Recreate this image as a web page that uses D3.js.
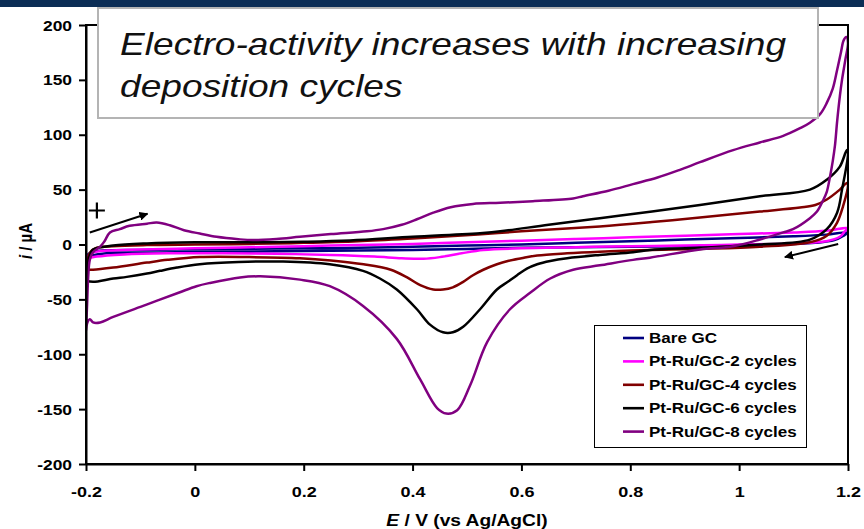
<!DOCTYPE html>
<html><head><meta charset="utf-8">
<script src="https://cdn.jsdelivr.net/npm/d3@7"></script>
<style>
body{margin:0;background:#fff;}
svg{display:block;font-family:"Liberation Sans",Arial,sans-serif;}
</style>
</head><body>
<svg id="chart" width="864" height="529"></svg>
<script>
// ---- data (E / V, i / µA), sweep order: forward then reverse ----
const xTicks = [-0.2, 0, 0.2, 0.4, 0.6, 0.8, 1, 1.2];
const xTickLabels = ["-0.2", "0", "0.2", "0.4", "0.6", "0.8", "1", "1.2"];
const yTicks = [-200, -150, -100, -50, 0, 50, 100, 150, 200];
const yTickLabels = ["-200", "-150", "-100", "-50", "0", "50", "100", "150", "200"];

const seriesNames = ["Bare GC", "Pt-Ru/GC-2 cycles", "Pt-Ru/GC-4 cycles", "Pt-Ru/GC-6 cycles", "Pt-Ru/GC-8 cycles"];
const seriesColors = ["#000080", "#ff00ff", "#800000", "#000000", "#800080"];

const bareGC = [
[-0.2,-14],[-0.196,-9],[-0.188,-6.5],[-0.17,-5.5],[-0.1,-5],[0,-4.5],[0.1,-4],[0.2,-3.5],[0.3,-3],[0.4,-2],[0.5,-1],[0.6,0],[0.7,1.5],[0.8,3],[0.9,4.5],[1.0,6],[1.1,7.5],[1.16,9],[1.2,11],
[1.192,8],[1.175,4],[1.14,1.5],[1.05,-0.5],[0.9,-1.5],[0.8,-2],[0.6,-3],[0.5,-4],[0.4,-5],[0.3,-5.5],[0.2,-6],[0.1,-6.5],[0,-7],[-0.1,-7.5],[-0.17,-8.5],[-0.193,-11],[-0.2,-14]];

const cycles2 = [
[-0.2,-16],[-0.196,-10],[-0.185,-7],[-0.16,-5.5],[-0.1,-4.5],[0,-3.5],[0.1,-2.5],[0.2,-1.5],[0.3,-0.5],[0.4,0.5],[0.5,2],[0.6,3.5],[0.7,5],[0.8,6.5],[0.9,8],[1.0,9.5],[1.1,11],[1.16,12.5],[1.2,15],
[1.194,12],[1.185,7],[1.16,3],[1.1,1],[1.0,0],[0.9,-1],[0.8,-1.5],[0.7,-2.5],[0.6,-3.5],[0.53,-5],[0.49,-8],[0.45,-11.5],[0.42,-13],[0.38,-12.5],[0.33,-11],[0.25,-9.5],[0.15,-8.5],[0.05,-8],[-0.05,-8],[-0.13,-9],[-0.18,-11],[-0.196,-13],[-0.2,-16]];

const cycles4 = [
[-0.2,-23],[-0.197,-14],[-0.192,-7],[-0.18,-3],[-0.15,-1.5],[-0.088,-0.5],[0,0],[0.1,0.5],[0.2,1.5],[0.3,3],[0.4,5.5],[0.52,9],[0.6,12],[0.744,16.5],[0.84,20.5],[0.928,24.6],[1.038,30],[1.112,33.7],[1.14,36],[1.161,41],[1.185,50],[1.198,56],
[1.2,54],[1.191,35],[1.18,20],[1.161,8],[1.13,2],[1.038,-2],[0.928,-4],[0.8,-5.5],[0.744,-6.5],[0.684,-8],[0.629,-10],[0.6,-12.5],[0.575,-15],[0.555,-18],[0.53,-23],[0.511,-28],[0.493,-34],[0.474,-39],[0.456,-41],[0.438,-41],[0.414,-37],[0.39,-30],[0.36,-23],[0.31,-18],[0.25,-14.5],[0.193,-12.5],[0.1,-11.5],[0.009,-11.5],[-0.05,-14],[-0.088,-16.5],[-0.15,-21],[-0.187,-23],[-0.2,-23]];

const cycles6 = [
[-0.2,-33],[-0.197,-20],[-0.193,-10],[-0.187,-4.5],[-0.15,-1],[-0.088,1],[0,2],[0.1,2],[0.2,2.5],[0.285,3.6],[0.4,7],[0.529,10.5],[0.561,12],[0.65,18],[0.744,24],[0.84,30],[0.928,36],[1.038,44],[1.13,50],[1.161,59],[1.185,71],[1.198,86],
[1.2,84],[1.189,50],[1.18,29],[1.161,14],[1.13,4.5],[1.038,0],[0.928,-3],[0.836,-5],[0.805,-7],[0.744,-9.5],[0.684,-12.5],[0.653,-15],[0.629,-18],[0.61,-22],[0.592,-28],[0.575,-34],[0.555,-41],[0.524,-59],[0.493,-75],[0.474,-80],[0.456,-80],[0.432,-73],[0.408,-59],[0.371,-41],[0.34,-31],[0.309,-24],[0.248,-18],[0.162,-15.5],[0.08,-16],[0.009,-18],[-0.033,-21],[-0.064,-24],[-0.088,-26.5],[-0.125,-29.5],[-0.15,-31],[-0.187,-34],[-0.2,-33]];

const cycles8 = [
[-0.2,-78],[-0.198,-55],[-0.196,-30],[-0.193,-14],[-0.187,-7],[-0.174,-2],[-0.166,3],[-0.156,11],[-0.138,14],[-0.12,17],[-0.088,19],[-0.07,20],[-0.046,17.5],[-0.02,13],[0.009,10],[0.04,7],[0.08,4.8],[0.107,4],[0.15,5],[0.193,7],[0.25,9.5],[0.316,12],[0.346,14],[0.38,18],[0.408,23],[0.438,29],[0.47,34],[0.511,37],[0.561,38],[0.621,39.5],[0.695,42],[0.713,44],[0.76,49],[0.805,55],[0.85,61],[0.891,68],[0.928,75],[0.989,86],[1.038,93],[1.081,99],[1.112,106],[1.13,111],[1.149,119],[1.161,129],[1.172,142],[1.18,159],[1.187,175],[1.192,186],[1.197,189],
[1.2,184],[1.195,168],[1.189,150],[1.185,135],[1.18,112],[1.176,90],[1.172,76],[1.167,62],[1.161,48],[1.154,40],[1.143,30],[1.13,24],[1.099,14],[1.081,11],[1.038,4.5],[0.989,-1.5],[0.928,-4.5],[0.836,-12],[0.805,-14],[0.744,-19],[0.695,-23],[0.653,-31],[0.616,-44],[0.579,-59],[0.537,-89],[0.506,-128],[0.482,-151],[0.462,-154],[0.445,-149],[0.414,-123],[0.371,-86],[0.309,-56],[0.248,-38],[0.193,-32],[0.12,-29],[0.083,-30],[0.028,-35],[0.003,-38],[-0.03,-44],[-0.09,-55],[-0.15,-66],[-0.174,-71],[-0.187,-71],[-0.193,-68],[-0.198,-72],[-0.2,-78]];

const allSeries = [bareGC, cycles2, cycles4, cycles6, cycles8];

const titleLines = ["Electro-activity increases with increasing", "deposition cycles"];

// ---- drawing ----
const SX = 1.2; // horizontal stretch of the original picture's text
const svg = d3.select("#chart");
const L = 86, R = 848, T = 25, B = 464;
const x = d3.scaleLinear().domain([-0.2, 1.2]).range([L, R]);
const y = d3.scaleLinear().domain([-200, 200]).range([B, T]);

svg.append("rect").attr("x",0).attr("y",0).attr("width",864).attr("height",529).attr("fill","#fff");

svg.append("defs").append("clipPath").attr("id","plotclip")
  .append("rect").attr("x",L).attr("y",T-3).attr("width",R-L+1).attr("height",B-T+3);

// curves
const line = d3.line().x(d=>x(d[0])).y(d=>y(d[1])).curve(d3.curveCatmullRom.alpha(0.5));
const gCurves = svg.append("g").attr("clip-path","url(#plotclip)");
allSeries.forEach((s,k)=>{
  gCurves.append("path").attr("d", line(s)).attr("fill","none")
    .attr("stroke", seriesColors[k]).attr("stroke-width",2.5)
    .attr("stroke-linejoin","round").attr("stroke-linecap","round");
});

// plot frame
svg.append("rect").attr("x",L).attr("y",T).attr("width",R-L).attr("height",B-T)
  .attr("fill","none").attr("stroke","#000").attr("stroke-width",2);

// axes
const gx = svg.append("g").attr("transform",`translate(0,${B})`)
  .call(d3.axisBottom(x).tickValues(xTicks).tickFormat((d,i)=>xTickLabels[i]).tickSize(7).tickSizeOuter(0));
const gy = svg.append("g").attr("transform",`translate(${L},0)`)
  .call(d3.axisLeft(y).tickValues(yTicks).tickFormat((d,i)=>yTickLabels[i]).tickSize(7).tickSizeOuter(0));
[gx, gy].forEach(g=>{
  g.select(".domain").attr("stroke","#000").attr("stroke-width",2);
  g.selectAll(".tick line").attr("stroke","#000").attr("stroke-width",2);
  g.selectAll(".tick text").attr("fill","#000").attr("font-size",15).attr("font-weight","bold")
    .attr("font-family",'"Liberation Sans",Arial,sans-serif');
});
gx.selectAll(".tick text").attr("y",33).attr("dy",0).attr("transform",`scale(${SX},1)`);
gy.selectAll(".tick text").attr("font-size",14.5).attr("x",-14/SX).attr("dy","0.35em").attr("transform",`scale(${SX},1)`);

// axis titles
const yt = svg.append("text").attr("transform",`translate(32,241) scale(${SX},1) rotate(-90)`)
  .attr("text-anchor","middle").attr("font-size",15).attr("font-weight","bold").attr("fill","#000");
yt.append("tspan").attr("font-style","italic").text("i");
yt.append("tspan").text(" / µA");
const xt = svg.append("text").attr("transform",`translate(467,526) scale(${SX},1)`)
  .attr("text-anchor","middle").attr("font-size",16).attr("font-weight","bold").attr("fill","#000");
xt.append("tspan").attr("font-style","italic").text("E");
xt.append("tspan").text(" / V (vs Ag/AgCl)");

// annotations: "+" and scan-direction arrows
const defs = svg.select("defs");
defs.append("marker").attr("id","ah").attr("viewBox","0 0 10 10").attr("refX",9).attr("refY",5)
  .attr("markerWidth",9).attr("markerHeight",9).attr("markerUnits","userSpaceOnUse").attr("orient","auto")
  .append("path").attr("d","M0,0 L10,5 L0,10 Z").attr("fill","#000");
const plusC = [-0.18, 31];
svg.append("path").attr("d",`M${x(plusC[0])-8},${y(plusC[1])} h16 M${x(plusC[0])},${y(plusC[1])-8} v16`)
  .attr("stroke","#000").attr("stroke-width",2.2).attr("fill","none");
const arrows = [[[-0.193,11],[-0.087,28]], [[1.182,0.5],[1.084,-11.5]]];
arrows.forEach(a=>{
  svg.append("line").attr("x1",x(a[0][0])).attr("y1",y(a[0][1])).attr("x2",x(a[1][0])).attr("y2",y(a[1][1]))
    .attr("stroke","#000").attr("stroke-width",2).attr("marker-end","url(#ah)");
});

// legend
const lg = svg.append("g");
lg.append("rect").attr("x",594.5).attr("y",325.5).attr("width",212).attr("height",122)
  .attr("fill","#fff").attr("stroke","#000").attr("stroke-width",1);
seriesNames.forEach((n,k)=>{
  const cy = 338 + k*23.4;
  lg.append("line").attr("x1",623).attr("x2",644).attr("y1",cy).attr("y2",cy)
    .attr("stroke",seriesColors[k]).attr("stroke-width",2.6);
  lg.append("text").attr("transform",`translate(649,${cy+5}) scale(${SX},1)`)
    .attr("font-size",14.2).attr("font-weight","bold").attr("fill","#000").text(n);
});

// title box
svg.append("rect").attr("x",98).attr("y",8).attr("width",720).attr("height",110)
  .attr("fill","#fff").attr("stroke","#b4b4b4").attr("stroke-width",2);
titleLines.forEach((t,k)=>{
  svg.append("text").attr("transform",`translate(120,${55+k*42}) scale(1.16,1)`)
    .attr("font-size",32).attr("font-style","italic").attr("fill","#111").text(t);
});

// top navy band
svg.append("rect").attr("x",0).attr("y",0).attr("width",864).attr("height",7).attr("fill","#0b2d55");
</script>
</body></html>
